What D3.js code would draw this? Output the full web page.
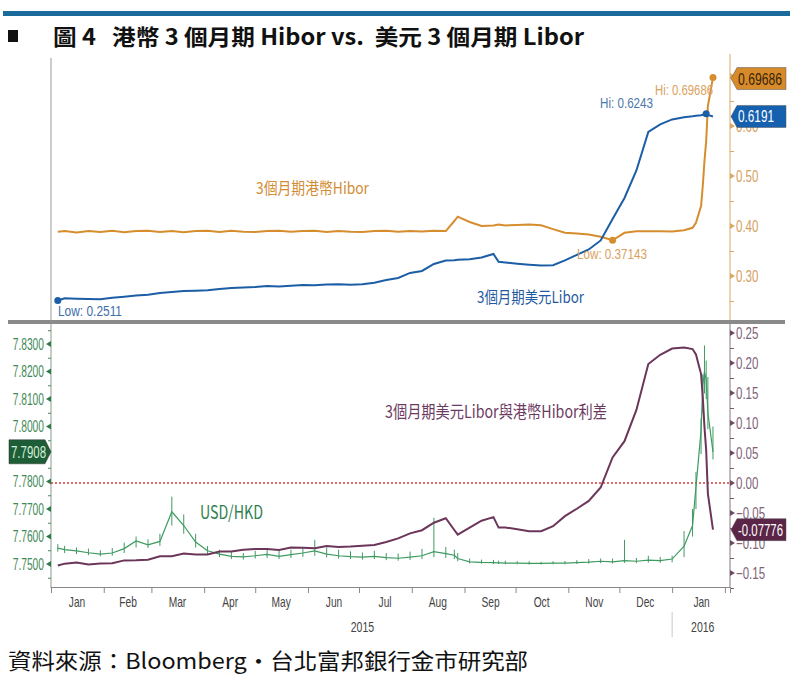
<!DOCTYPE html>
<html><head><meta charset="utf-8">
<script src="https://cdn.jsdelivr.net/npm/d3@7"></script>
<style>
body{margin:0;background:#fff;}
svg{display:block;}
.nar{font-family:"Liberation Sans",Arial,sans-serif;}
.cjk{font-family:"Noto Sans CJK TC","Noto Sans",sans-serif;}
</style></head><body>
<svg id="c" width="795" height="683"></svg>
<script>
// ---------------- DATA ----------------
const dates = [
"2015-01-05","2015-01-09","2015-01-16","2015-01-23","2015-01-30",
"2015-02-06","2015-02-13","2015-02-20","2015-02-27",
"2015-03-06","2015-03-13","2015-03-20","2015-03-27",
"2015-04-03","2015-04-10","2015-04-17","2015-04-24",
"2015-05-01","2015-05-08","2015-05-15","2015-05-22","2015-05-29",
"2015-06-05","2015-06-12","2015-06-19","2015-06-26",
"2015-07-03","2015-07-10","2015-07-17","2015-07-24","2015-07-31",
"2015-08-07","2015-08-14","2015-08-21","2015-08-26","2015-08-28",
"2015-09-04","2015-09-11","2015-09-18","2015-09-21","2015-09-25",
"2015-10-02","2015-10-09","2015-10-16","2015-10-23","2015-10-30",
"2015-11-06","2015-11-13","2015-11-20","2015-11-27",
"2015-12-04","2015-12-11","2015-12-18","2015-12-25",
"2016-01-01","2016-01-08","2016-01-13","2016-01-15","2016-01-18","2016-01-19","2016-01-20","2016-01-21","2016-01-22","2016-01-25"];

const libor = [
0.2511,0.2556,0.2546,0.2541,0.2536,
0.2566,0.2586,0.2611,0.2626,
0.2661,0.2681,0.2701,0.2706,
0.2716,0.2741,0.2761,0.2771,
0.2781,0.2801,0.2791,0.2806,0.2821,
0.2816,0.2831,0.2836,0.2826,
0.2836,0.2866,0.2921,0.2961,0.3061,
0.3101,0.3241,0.3311,0.3316,0.3326,
0.3336,0.3371,0.3441,0.3286,0.3271,
0.3246,0.3226,0.3211,0.3216,0.3311,
0.3421,0.3531,0.3711,0.4141,
0.4561,0.5111,0.5881,0.6031,
0.6131,0.6176,0.6196,0.6206,0.6216,0.6226,0.6236,0.6243,0.6221,0.6191];

const hibor = [
0.3886,0.3900,0.3871,0.3898,0.3879,
0.3904,0.3876,0.3899,0.3905,
0.3881,0.3902,0.3876,0.3898,
0.3906,0.3882,0.3903,0.3884,
0.3880,0.3902,0.3906,0.3883,0.3899,
0.3904,0.3882,0.3901,0.3886,
0.3881,0.3899,0.3905,0.3884,0.3900,
0.3888,0.3903,0.3898,0.4100,0.4186,
0.4080,0.4000,0.4010,0.4029,0.4011,
0.4018,0.4029,0.4014,0.3937,0.3864,
0.3850,0.3829,0.3786,0.37143,
0.3864,0.3893,0.3897,0.3894,
0.3891,0.3917,0.3964,0.4064,0.4400,0.4800,0.5300,0.5700,0.6400,0.69686];

const spread = [
-0.1375,-0.1344,-0.1325,-0.1357,-0.1343,
-0.1338,-0.1290,-0.1288,-0.1279,
-0.1220,-0.1221,-0.1175,-0.1192,
-0.1190,-0.1141,-0.1142,-0.1113,
-0.1099,-0.1101,-0.1115,-0.1077,-0.1078,
-0.1088,-0.1051,-0.1065,-0.1060,
-0.1045,-0.1033,-0.0984,-0.0923,-0.0839,
-0.0787,-0.0662,-0.0587,-0.0784,-0.0860,
-0.0744,-0.0629,-0.0569,-0.0743,-0.0740,
-0.0772,-0.0803,-0.0803,-0.0721,-0.0553,
-0.0429,-0.0298,-0.0075,0.0427,
0.0697,0.1218,0.1984,0.2137,
0.2240,0.2259,0.2232,0.2142,0.1816,0.1426,0.0936,0.0543,-0.0179,-0.07776];

const fxClose = [
7.7558,7.7552,7.7548,7.7541,7.7536,
7.7540,7.7556,7.7584,7.7570,
7.7582,7.7690,7.7640,7.7580,
7.7548,7.7536,7.7528,7.7526,
7.7530,7.7535,7.7528,7.7534,7.7540,
7.7548,7.7536,7.7530,7.7527,
7.7525,7.7528,7.7523,7.7521,7.7525,
7.7530,7.7545,7.7538,7.7532,7.7520,
7.7508,7.7506,7.7505,7.7504,7.7503,
7.7503,7.7502,7.7502,7.7503,7.7503,
7.7505,7.7507,7.7510,7.7508,
7.7512,7.7510,7.7514,7.7512,
7.7518,7.7565,7.7640,7.7780,7.7985,7.8150,7.8200,7.8170,7.8050,7.7908];
const fxLow = [
7.7545,7.7540,7.7536,7.7532,7.7528,
7.7530,7.7540,7.7560,7.7558,
7.7566,7.7640,7.7610,7.7560,
7.7535,7.7525,7.7518,7.7516,
7.7520,7.7522,7.7518,7.7522,7.7526,
7.7530,7.7524,7.7520,7.7518,
7.7516,7.7518,7.7514,7.7512,7.7515,
7.7518,7.7525,7.7522,7.7518,7.7510,
7.7502,7.7501,7.7500,7.7500,7.7499,
7.7499,7.7498,7.7498,7.7499,7.7499,
7.7500,7.7501,7.7503,7.7502,
7.7504,7.7503,7.7505,7.7504,
7.7506,7.7525,7.7600,7.7700,7.7900,7.8050,7.8120,7.8100,7.7990,7.7880];
const fxHigh = [
7.7572,7.7566,7.7560,7.7556,7.7550,
7.7558,7.7578,7.7600,7.7590,
7.7610,7.7745,7.7680,7.7610,
7.7565,7.7552,7.7545,7.7540,
7.7548,7.7556,7.7550,7.7552,7.7560,
7.7588,7.7560,7.7552,7.7546,
7.7542,7.7548,7.7540,7.7538,7.7545,
7.7555,7.7668,7.7562,7.7552,7.7540,
7.7520,7.7516,7.7515,7.7512,7.7512,
7.7510,7.7510,7.7508,7.7510,7.7511,
7.7514,7.7518,7.7520,7.7520,
7.7588,7.7522,7.7530,7.7526,
7.7530,7.7620,7.7700,7.7835,7.8030,7.8190,7.8295,7.8240,7.8180,7.8000];

const topTicks = [0.30,0.40,0.50,0.60,0.70];
const topLabelled = [0.30,0.40,0.50,0.60];
const topMinor = [0.25,0.35,0.45,0.55,0.65];
const fxTicks = [7.75,7.76,7.77,7.78,7.80,7.81,7.82,7.83];
const fxMinor = [7.745,7.755,7.765,7.775,7.785,7.795,7.805,7.815,7.825,7.835];
const spTicks = [-0.15,-0.10,-0.05,0,0.05,0.10,0.15,0.20,0.25];
const spMinor = [-0.175,-0.125,-0.075,-0.025,0.025,0.075,0.125,0.175,0.225];
const monthStarts = ["2015-01-01","2015-02-01","2015-03-01","2015-04-01","2015-05-01","2015-06-01","2015-07-01","2015-08-01","2015-09-01","2015-10-01","2015-11-01","2015-12-01","2016-01-01","2016-02-01"];
const monthMids = ["2015-01-16","2015-02-15","2015-03-16","2015-04-16","2015-05-16","2015-06-16","2015-07-16","2015-08-16","2015-09-16","2015-10-16","2015-11-16","2015-12-16","2016-01-18"];
const yearLabels = [["2015-07-03","2015"],["2016-01-19","2016"]];
const hiborLast = 0.69686, liborLast = 0.6191, fxLast = 7.7908, spreadLast = -0.07776;
const liborLow = 0.2511, liborHi = 0.6243, hiborLow = 0.37143, hiborHi = 0.69686;

// ---------------- CHART ----------------
const svg = d3.select("#c");
const parse = d3.utcParse("%Y-%m-%d");
const D = dates.map(parse);
const x = d3.scaleUtc().domain([parse("2015-01-01"), parse("2016-02-04")]).range([51,730]);
const yTop = d3.scaleLinear().domain([0.30,0.70]).range([276,76]);
const yFx = d3.scaleLinear().domain([7.75,7.83]).range([564,344]);
const ySp = d3.scaleLinear().domain([0,0.25]).range([483,333]);

const C = {hibor:"#d68d2e", libor:"#1c5ea6", spread:"#6b3659", fx:"#3f9a62"};

function squeeze(sel, f){
  sel.each(function(){
    const L = this.getComputedTextLength();
    this.setAttribute("textLength", (L*f).toFixed(1));
    this.setAttribute("lengthAdjust","spacingAndGlyphs");
  });
}
function fitW(sel, w){
  sel.attr("textLength", w).attr("lengthAdjust","spacingAndGlyphs");
}

// header
svg.append("rect").attr("x",3).attr("y",11).attr("width",787).attr("height",5).attr("fill","#1b6a9c");
svg.append("rect").attr("x",8).attr("y",30).attr("width",10).attr("height",12).attr("fill","#111");
svg.append("text").attr("class","cjk").attr("x",53).attr("y",45).attr("font-size",22).attr("font-weight",700)
  .attr("fill","#111").style("white-space","pre").text("圖 4   港幣 3 個月期 Hibor vs.  美元 3 個月期 Libor")
  .call(fitW, 531);

// clips
const defs = svg.append("defs");
defs.append("clipPath").attr("id","ct").append("rect").attr("x",51).attr("y",58).attr("width",679).attr("height",262);
defs.append("clipPath").attr("id","cb").append("rect").attr("x",51).attr("y",324).attr("width",679).attr("height",263);

// frames
svg.append("line").attr("x1",51).attr("x2",51).attr("y1",58).attr("y2",320).attr("stroke","#9a9a9a");
svg.append("line").attr("x1",730).attr("x2",730).attr("y1",54).attr("y2",320).attr("stroke","#d9a864");
svg.append("line").attr("x1",51).attr("x2",51).attr("y1",324).attr("y2",588).attr("stroke","#8a9a8e");
svg.append("line").attr("x1",730).attr("x2",730).attr("y1",324).attr("y2",588).attr("stroke","#8c7584");

// top axis (right)
const gTop = svg.append("g").attr("transform","translate(730,0)");
gTop.call(d3.axisRight(yTop).tickValues(topMinor).tickSize(4).tickFormat(""));
gTop.append("g").call(d3.axisRight(yTop).tickValues(topLabelled).tickSize(0).tickPadding(6).tickFormat(d3.format(".2f")));
gTop.selectAll(".domain").remove();
gTop.selectAll("line").attr("stroke","#d9a864");
gTop.selectAll("text").attr("class","nar").attr("font-size",16).attr("fill","#d4a060").call(squeeze,0.72);
gTop.selectAll(".tri").data(topTicks).join("path").attr("d",d=>`M0,${yTop(d)-3}L5,${yTop(d)}L0,${yTop(d)+3}Z`).attr("fill","#d9a864");

// bottom left axis
const gL = svg.append("g").attr("transform","translate(51,0)");
gL.call(d3.axisLeft(yFx).tickValues(fxMinor).tickSize(3).tickFormat(""));
gL.append("g").call(d3.axisLeft(yFx).tickValues(fxTicks).tickSize(0).tickPadding(7).tickFormat(d3.format(".4f")));
gL.selectAll(".domain").remove();
gL.selectAll("line").attr("stroke","#4a8a5e");
gL.selectAll("text").attr("class","nar").attr("font-size",16).attr("fill","#3f8a58").call(squeeze,0.64);
gL.selectAll(".tri").data(fxTicks).join("path").attr("d",d=>`M0,${yFx(d)-3}L-5,${yFx(d)}L0,${yFx(d)+3}Z`).attr("fill","#2f7a4a");

// bottom right axis
const gR = svg.append("g").attr("transform","translate(730,0)");
gR.call(d3.axisRight(ySp).tickValues(spMinor).tickSize(4).tickFormat(""));
gR.append("g").call(d3.axisRight(ySp).tickValues(spTicks).tickSize(0).tickPadding(6).tickFormat(d3.format(".2f")));
gR.selectAll(".domain").remove();
gR.selectAll("line").attr("stroke","#7a5a70");
gR.selectAll("text").attr("class","nar").attr("font-size",16).attr("fill","#7e6278").call(squeeze,0.72);
gR.selectAll(".tri").data(spTicks).join("path").attr("d",d=>`M0,${ySp(d)-3}L5,${ySp(d)}L0,${ySp(d)+3}Z`).attr("fill","#6b4a62");

// x axis
const gX = svg.append("g").attr("transform","translate(0,587)");
gX.call(d3.axisBottom(x).tickValues(monthStarts.map(parse)).tickSize(6).tickFormat(""));
gX.append("g").call(d3.axisBottom(x).tickValues(monthMids.map(parse)).tickSize(0).tickPadding(9).tickFormat(d3.utcFormat("%b")));
gX.selectAll(".domain").attr("stroke","#888");
gX.selectAll("line").attr("stroke","#888");
gX.selectAll("text").attr("class","nar").attr("font-size",15).attr("fill","#444").call(squeeze,0.68);
svg.append("g").selectAll("text").data(yearLabels).join("text").attr("class","nar")
  .attr("x",d=>x(parse(d[0]))).attr("y",632).attr("text-anchor","middle").attr("font-size",15).attr("fill","#444").text(d=>d[1])
  .call(squeeze,0.7);
svg.append("line").attr("x1",x(parse("2016-01-01"))).attr("x2",x(parse("2016-01-01"))).attr("y1",612).attr("y2",637).attr("stroke","#c8c8c8");

// separator
svg.append("rect").attr("x",8).attr("y",320).attr("width",777).attr("height",4).attr("fill","#8a8a8a");

// zero line
svg.append("line").attr("x1",51).attr("x2",730).attr("y1",ySp(0)).attr("y2",ySp(0))
  .attr("stroke","#d83a3a").attr("stroke-width",1.5).attr("stroke-dasharray","2,2");

// top series
const gSeriesTop = svg.append("g").attr("clip-path","url(#ct)");
const lineT = (arr)=>d3.line().x((d,i)=>x(D[i])).y(d=>yTop(d))(arr);
gSeriesTop.append("path").attr("d",lineT(hibor)).attr("fill","none").attr("stroke",C.hibor).attr("stroke-width",2);
gSeriesTop.append("path").attr("d",lineT(libor)).attr("fill","none").attr("stroke",C.libor).attr("stroke-width",2);

// markers top
const iLL = libor.indexOf(liborLow), iLH = libor.indexOf(liborHi), iHL = hibor.indexOf(hiborLow), iHH = hibor.indexOf(hiborHi);
[[iLL,libor,C.libor],[iLH,libor,C.libor],[iHL,hibor,C.hibor],[iHH,hibor,C.hibor]].forEach(([i,arr,c])=>{
  svg.append("circle").attr("cx",x(D[i])).attr("cy",yTop(arr[i])).attr("r",3.5).attr("fill",c);
});

// bottom series
const gSeriesBot = svg.append("g").attr("clip-path","url(#cb)");
gSeriesBot.selectAll(".hl").data(fxClose).join("line")
  .attr("x1",(d,i)=>x(D[i])).attr("x2",(d,i)=>x(D[i]))
  .attr("y1",(d,i)=>yFx(fxLow[i])).attr("y2",(d,i)=>yFx(fxHigh[i]))
  .attr("stroke",C.fx).attr("stroke-width",1);
gSeriesBot.append("path").attr("d",d3.line().x((d,i)=>x(D[i])).y(d=>yFx(d))(fxClose)).attr("fill","none").attr("stroke",C.fx).attr("stroke-width",1.2);
gSeriesBot.append("path").attr("d",d3.line().x((d,i)=>x(D[i])).y(d=>ySp(d))(spread)).attr("fill","none").attr("stroke",C.spread).attr("stroke-width",2);

// annotations
function ann(txt,xx,yy,size,color,cls){
  return svg.append("text").attr("class",cls||"cjk").attr("x",xx).attr("y",yy).attr("font-size",size).attr("fill",color).text(txt);
}
ann("3個月期港幣Hibor",256,194,16,"#d28c34").call(fitW,113);
ann("3個月期美元Libor",477,303,16,"#1f5a9e").call(fitW,107);
ann("Low: "+liborLow,58,316,15,"#3d6eaa","nar").call(fitW,64);
ann("Low: "+hiborLow,577,259,15,"#d9a260","nar").call(fitW,70);
ann("Hi: "+liborHi,600,108,15,"#4c78ad","nar").call(fitW,53);
ann("Hi: "+hiborHi,655,95,15,"#d9a260","nar").call(fitW,58);
ann("3個月期美元Libor與港幣Hibor利差",385,418,17,"#6b3a5f").call(fitW,222);
ann("USD/HKD",200,519,18,"#2f7f4f").call(fitW,63);

// last value boxes
function boxR(yc,fill,tc,txt,w){
  svg.append("path").attr("d",`M731,${yc} L737,${yc-11} L786,${yc-11} L786,${yc+11} L737,${yc+11} Z`).attr("fill",fill).attr("stroke","#555").attr("stroke-width",0.5);
  svg.append("text").attr("class","nar").attr("x",738).attr("y",yc+6).attr("font-size",16).attr("fill",tc).text(txt).call(fitW,w);
}
boxR(yTop(hiborLast)+1,"#d68a2a","#3a2408",hiborLast,44);
boxR(yTop(liborLast),"#1660b0","#ffffff",liborLast,36);
boxR(ySp(spreadLast),"#5b2548","#ffffff",spreadLast,45);
{
  const yc = yFx(fxLast);
  svg.append("path").attr("d",`M9,${yc-12} L45,${yc-12} L51,${yc} L45,${yc+12} L9,${yc+12} Z`).attr("fill","#1e5e36").attr("stroke","#333").attr("stroke-width",0.5);
  svg.append("text").attr("class","nar").attr("x",11).attr("y",yc+6).attr("font-size",16).attr("fill","#d8f0dc").text(fxLast.toFixed(4)).call(fitW,35);
}

// source
svg.append("text").attr("class","cjk").attr("x",8).attr("y",669).attr("font-size",22).attr("fill","#111")
  .text("資料來源：Bloomberg‧台北富邦銀行金市研究部").call(fitW,520);
</script>
</body></html>
